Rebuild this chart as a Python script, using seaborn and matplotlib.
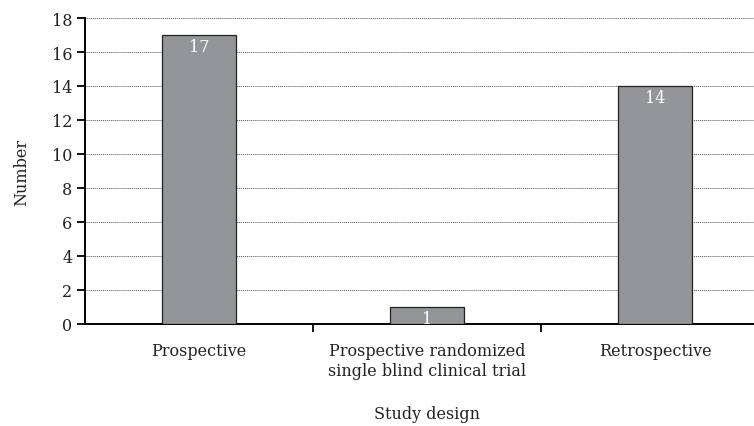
import matplotlib
matplotlib.use("Agg")
import matplotlib.pyplot as plt
import pandas as pd
import seaborn as sns

# Data
designs = [
    "Prospective",
    "Prospective randomized\nsingle blind clinical trial",
    "Retrospective",
]
counts = [17, 1, 14]

df = pd.DataFrame({"design": designs, "count": counts})

sns.set_style("white")
plt.rcParams["font.family"] = ["DejaVu Serif"]

fig = plt.figure(figsize=(7.54, 4.27), dpi=100)
ax = fig.add_axes([0.1127, 0.2389, 0.9072, 0.7166])

sns.barplot(
    data=df,
    x="design",
    y="count",
    color="#939598",
    edgecolor="#222222",
    linewidth=0.9,
    width=0.325,
    saturation=1,
    ax=ax,
    zorder=3,
)

# Value labels inside bars
for i, v in enumerate(counts):
    ax.text(i, v - 0.15, str(v), ha="center", va="top",
            color="white", fontsize=11.5, zorder=4)

ax.set_ylim(0, 18)
ax.set_xlim(-0.5, 2.5)
ax.set_yticks(range(0, 19, 2))
ax.yaxis.grid(True, linestyle=(0, (1, 1)), color="#555555", linewidth=0.7, zorder=0)
ax.set_axisbelow(True)

# Category ticks at boundaries
ax.set_xticks([0.5, 1.5], minor=True)
ax.tick_params(axis="x", which="minor", bottom=True, direction="out",
               length=6, width=1.3, color="black")
ax.tick_params(axis="x", which="major", bottom=True, length=0, pad=13,
               labelsize=11.5, labelcolor="#222222")
ax.tick_params(axis="y", left=True, direction="out", length=6, width=1.3,
               color="black", labelsize=11.5, labelcolor="#222222", pad=3)

for side in ["top", "right"]:
    ax.spines[side].set_visible(False)
for side in ["left", "bottom"]:
    ax.spines[side].set_color("black")
    ax.spines[side].set_linewidth(1.4)

ax.set_xlabel("Study design", fontsize=11.5, labelpad=19, color="#222222")
ax.set_ylabel("Number", fontsize=11.5, labelpad=16, color="#222222")

fig.savefig("out.png", dpi=100)
